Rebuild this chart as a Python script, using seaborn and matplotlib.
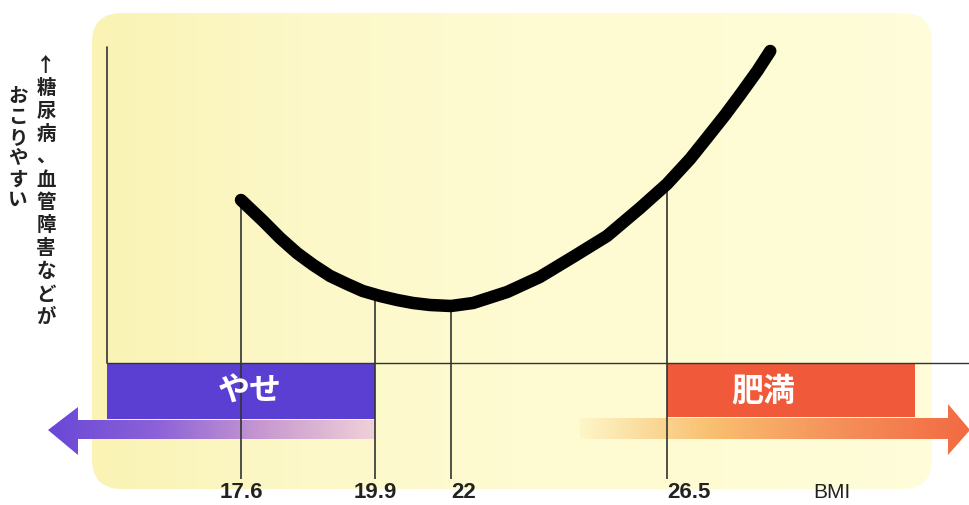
import numpy as np
import pandas as pd
import matplotlib
matplotlib.use("Agg")
import matplotlib.pyplot as plt
import seaborn as sns
from matplotlib.patches import Polygon, FancyBboxPatch
from matplotlib.colors import LinearSegmentedColormap

sns.set_theme(style="white")
plt.rcParams['font.family'] = ['Noto Sans CJK JP', 'DejaVu Sans']

# curve: risk (arbitrary units) vs BMI
bmi = [17.6, 17.98, 18.27, 18.56, 18.84, 19.13, 19.42, 19.69, 20.04, 20.51, 20.95, 21.42, 22.0,
       22.46, 23.17, 23.85, 24.54, 25.25, 25.94, 26.5, 26.98, 27.33, 27.71, 28.02, 28.38, 28.65]
risk = [305, 284, 267, 252, 240, 229, 221, 214, 209, 205, 202, 200, 199,
        202, 213, 228, 248, 269, 297, 321, 346, 367, 390, 410, 434, 454]

tick_bmi = [17.6, 19.9, 22, 26.5]
tick_labels = ["17.6", "19.9", "22", "26.5"]
tick_ha = ["center", "center", "left", "left"]

thin_range = [15.3, 19.9]   # やせ
obese_range = [26.5, 31.67]  # 肥満

# schematic (non-linear) BMI axis: BMI anchor -> pixel position
anchor_bmi = np.array([9.0, 13.46, 17.6, 19.9, 22.0, 26.5, 32.81, 40.0])
anchor_px = np.array([-260.0, 0.0, 241.0, 375.0, 451.0, 667.0, 970.0, 1315.0])

def fwd(x):
    return np.interp(x, anchor_bmi, anchor_px)

def inv(p):
    return np.interp(p, anchor_px, anchor_bmi)

fig = plt.figure(figsize=(9.7, 5.06), dpi=100)
fig.patch.set_facecolor("white")

# background / decorations in pixel coordinates
bg = fig.add_axes([0, 0, 1, 1])
bg.set_xlim(0, 970)
bg.set_ylim(506, 0)
bg.axis("off")

box = FancyBboxPatch((92, 14), 840, 476, boxstyle="round,pad=0,rounding_size=30",
                     facecolor="none", edgecolor="none")
bg.add_patch(box)
ycmap = LinearSegmentedColormap.from_list("y", ["#FAF3B4", "#FCF8C8", "#FEFBD2", "#FEFCD4", "#FEFDDA"])
grad = np.linspace(0, 1, 256).reshape(1, -1)
im = bg.imshow(grad, extent=(92, 932, 490, 14), cmap=ycmap, aspect="auto", zorder=0)
im.set_clip_path(box)

# purple arrow (left)
pcmap = LinearSegmentedColormap.from_list("p", ["#6A48D6", "#8C62D8", "#C99AD0", "#F0D0D8"])
parrow = Polygon([(48, 431), (78, 408), (78, 421), (375, 421), (375, 440), (78, 440), (78, 456)],
                 closed=True, facecolor="none", edgecolor="none")
bg.add_patch(parrow)
pim = bg.imshow(grad, extent=(48, 375, 456, 408), cmap=pcmap, aspect="auto", zorder=1)
pim.set_clip_path(parrow)

# orange arrow (right)
ocmap = LinearSegmentedColormap.from_list("o", ["#FDF6C8", "#F9C070", "#F5905A", "#F26A42"])
oarrow = Polygon([(580, 419), (948, 419), (948, 405), (970, 431), (948, 456), (948, 440), (580, 440)],
                 closed=True, facecolor="none", edgecolor="none")
bg.add_patch(oarrow)
oim = bg.imshow(grad, extent=(580, 970, 456, 405), cmap=ocmap, aspect="auto", zorder=1)
oim.set_clip_path(oarrow)

# data axes
ax = fig.add_axes([0, 0, 1, 1])
ax.patch.set_alpha(0)
ax.set_xscale("function", functions=(fwd, inv))
ax.set_xlim(inv(0), inv(970))
ax.set_ylim(0, 506)
ax.axis("off")

df = pd.DataFrame({"BMI": bmi, "risk": risk})

# axes lines
ax.plot([thin_range[0], thin_range[0]], [142, 458], color="#333333", lw=1.2, zorder=3)
ax.plot([thin_range[0], inv(970)], [142, 142], color="#333333", lw=1.0, zorder=3)

# category bands
ax.fill_between(thin_range, 86, 141, color="#5A3FD2", lw=0, zorder=2)
ax.fill_between(obese_range, 88, 141, color="#F05A3A", lw=0, zorder=2)
ax.text(np.mean(thin_range) + 0.15, 114, "やせ", color="white", fontsize=23,
        fontweight="bold", ha="center", va="center", zorder=4)
ax.text(27.0 + 1.5, 114, "肥満", color="white", fontsize=23,
        fontweight="bold", ha="center", va="center", zorder=4)

# tick lines from curve down
tick_top = np.interp(tick_bmi, bmi, risk)
ax.vlines(tick_bmi, 26, tick_top, color="#333333", lw=1.2, zorder=3)

sns.lineplot(data=df, x="BMI", y="risk", ax=ax, color="black", lw=9,
             solid_capstyle="round", solid_joinstyle="round", zorder=5)

for xb, lab, ha in zip(tick_bmi, tick_labels, tick_ha):
    ax.text(xb, 13, lab, fontsize=16, fontweight="bold", family="Liberation Sans",
            ha=ha, va="center", color="#222222")
ax.text(inv(832), 13, "BMI", fontsize=15, family="Liberation Sans",
        ha="center", va="center", color="#222222")

# vertical Japanese y-label (right column first)
col1 = "↑糖尿病、血管障害などが"
col2 = "おこりやすい"
bg.text(46, 56, "\n".join(col1), fontsize=14, fontweight="bold", ha="center", va="top",
        linespacing=1.26, color="#222222")
bg.text(18, 87, "\n".join(col2), fontsize=14, fontweight="bold", ha="center", va="top",
        linespacing=1.12, color="#222222")

fig.savefig("out.png", dpi=100)
